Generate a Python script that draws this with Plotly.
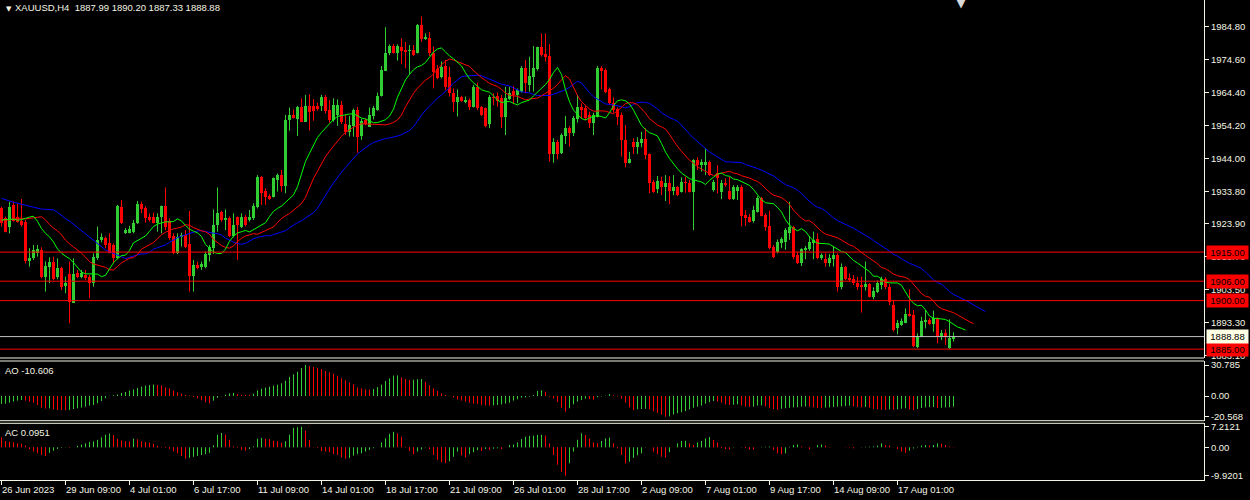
import plotly.graph_objects as go

# ---------------- data ----------------
time_labels = ["26 Jun 2023", "29 Jun 09:00", "4 Jul 01:00", "6 Jul 17:00", "11 Jul 09:00",
               "14 Jul 01:00", "18 Jul 17:00", "21 Jul 09:00", "26 Jul 01:00", "28 Jul 17:00",
               "2 Aug 09:00", "7 Aug 01:00", "9 Aug 17:00", "14 Aug 09:00", "17 Aug 01:00"]
bars_per_label = 16

opens = [
    1928.5, 1925.4, 1922.9, 1929.6, 1926.0, 1924.7, 1924.4, 1912.1, 1913.1, 1914.8,
    1915.7, 1907.2, 1910.5, 1911.8, 1907.2, 1910.0, 1904.5, 1908.2, 1899.4, 1908.6,
    1907.4, 1907.9, 1907.2, 1905.4, 1913.1, 1918.6, 1919.5, 1917.7, 1917.2, 1913.1,
    1929.0, 1920.8, 1921.0, 1921.3, 1923.9, 1929.9, 1928.5, 1925.7, 1925.7, 1924.1,
    1925.7, 1929.2, 1924.7, 1920.0, 1914.6, 1919.6, 1920.3, 1917.5, 1907.6, 1911.0,
    1910.5, 1910.5, 1914.1, 1916.2, 1923.4, 1927.3, 1924.9, 1925.4, 1920.0, 1926.0,
    1922.9, 1925.7, 1924.9, 1925.4, 1929.0, 1938.1, 1933.9, 1932.3, 1932.1, 1937.3,
    1938.8, 1935.5, 1955.8, 1957.4, 1956.2, 1959.9, 1955.3, 1960.2, 1960.2, 1960.2,
    1960.2, 1962.8, 1958.9, 1955.8, 1957.4, 1960.4, 1954.6, 1952.2, 1954.0, 1958.9,
    1950.9, 1955.8, 1953.8, 1957.1, 1958.9, 1963.3, 1971.1, 1976.4, 1978.8, 1976.6,
    1978.5, 1977.5, 1977.3, 1977.5, 1976.4, 1985.2, 1980.8, 1981.1, 1976.6, 1971.5,
    1969.2, 1972.5, 1969.2, 1964.1, 1961.5, 1963.1, 1961.5, 1962.0, 1959.9, 1965.9,
    1959.9, 1959.4, 1954.6, 1963.1, 1963.3, 1962.5, 1956.7, 1962.2, 1964.9, 1963.6,
    1964.6, 1971.8, 1966.7, 1969.2, 1971.5, 1978.3, 1976.2, 1975.6, 1945.3, 1949.1,
    1945.5, 1950.9, 1953.3, 1951.9, 1956.0, 1959.7, 1959.4, 1957.4, 1955.0, 1956.9,
    1971.8, 1971.3, 1965.3, 1961.2, 1959.1, 1957.4, 1949.7, 1942.6, 1949.1, 1947.6,
    1948.8, 1949.9, 1945.3, 1936.8, 1934.4, 1937.1, 1935.2, 1936.5, 1934.0, 1935.0,
    1933.7, 1936.8, 1936.5, 1933.7, 1943.5, 1941.9, 1941.9, 1942.7, 1934.2, 1939.3,
    1933.7, 1936.5, 1934.0, 1931.4, 1934.0, 1935.2, 1926.5, 1926.0, 1924.7, 1927.5,
    1931.6, 1926.5, 1923.1, 1916.7, 1915.1, 1917.7, 1918.2, 1921.0, 1922.9, 1914.1,
    1911.7, 1915.7, 1915.9, 1917.7, 1919.0, 1913.1, 1912.8, 1911.5, 1912.8, 1914.1,
    1904.3, 1910.5, 1906.9, 1906.6, 1905.6, 1904.8, 1904.3, 1905.1, 1901.0, 1902.8,
    1904.8, 1906.6, 1904.3, 1898.6, 1891.4, 1892.5, 1893.2, 1895.9, 1895.6, 1885.8,
    1888.9, 1893.5, 1894.0, 1892.8, 1894.5, 1889.1, 1889.9, 1885.3, 1887.99]

highs = [
    1929.0, 1926.0, 1930.6, 1930.6, 1929.9, 1931.4, 1924.9, 1916.2, 1917.2, 1917.2,
    1916.5, 1912.1, 1913.4, 1913.6, 1913.1, 1910.5, 1907.4, 1912.1, 1913.1, 1909.5,
    1909.5, 1909.5, 1907.9, 1914.6, 1922.9, 1920.8, 1919.8, 1920.8, 1917.7, 1929.6,
    1931.1, 1922.4, 1923.1, 1924.9, 1930.8, 1930.6, 1929.2, 1927.0, 1927.2, 1927.0,
    1929.4, 1935.0, 1925.4, 1920.8, 1920.8, 1921.0, 1921.8, 1927.7, 1912.6, 1912.1,
    1912.1, 1915.1, 1917.2, 1928.2, 1935.0, 1927.8, 1928.2, 1926.0, 1927.0, 1926.0,
    1927.0, 1926.5, 1928.0, 1930.1, 1938.8, 1938.5, 1934.7, 1932.9, 1938.1, 1939.3,
    1940.4, 1957.4, 1959.7, 1959.1, 1960.2, 1962.5, 1963.6, 1963.8, 1962.3, 1961.2,
    1963.6, 1963.6, 1962.0, 1962.5, 1962.2, 1961.7, 1957.4, 1957.1, 1959.4, 1959.9,
    1956.3, 1956.3, 1959.7, 1960.2, 1964.3, 1972.5, 1984.5, 1979.2, 1979.3, 1979.2,
    1981.1, 1980.0, 1979.0, 1979.0, 1985.5, 1987.8, 1982.6, 1983.1, 1978.5, 1972.8,
    1973.9, 1974.4, 1972.3, 1965.6, 1965.3, 1963.3, 1963.1, 1962.5, 1966.7, 1967.4,
    1960.2, 1959.7, 1963.6, 1964.1, 1964.3, 1963.6, 1966.1, 1966.1, 1966.3, 1965.6,
    1972.5, 1974.4, 1975.4, 1978.7, 1978.5, 1982.6, 1982.6, 1979.3, 1950.2, 1949.7,
    1951.7, 1957.1, 1954.0, 1957.1, 1963.6, 1961.0, 1960.2, 1958.4, 1958.1, 1972.5,
    1972.5, 1971.8, 1965.9, 1962.8, 1959.7, 1958.1, 1954.3, 1946.0, 1950.2, 1950.5,
    1952.2, 1953.3, 1945.5, 1937.3, 1938.5, 1938.3, 1938.8, 1938.5, 1938.8, 1935.4,
    1938.1, 1938.3, 1937.3, 1943.7, 1944.3, 1943.7, 1947.1, 1943.3, 1937.3, 1941.9,
    1937.3, 1937.8, 1938.3, 1935.7, 1935.7, 1935.7, 1928.0, 1926.8, 1929.3, 1932.3,
    1932.1, 1927.0, 1927.8, 1917.2, 1918.9, 1919.6, 1922.4, 1930.6, 1923.1, 1915.1,
    1916.2, 1916.9, 1920.0, 1921.3, 1920.8, 1914.6, 1914.6, 1914.4, 1916.7, 1914.6,
    1911.5, 1910.7, 1908.4, 1907.9, 1907.4, 1907.4, 1912.1, 1905.4, 1904.1, 1906.2,
    1907.4, 1907.2, 1905.1, 1900.2, 1894.0, 1894.5, 1897.6, 1903.5, 1897.1, 1889.9,
    1895.0, 1897.1, 1894.5, 1896.9, 1894.8, 1890.9, 1891.1, 1894.2, 1890.20]

lows = [
    1922.9, 1921.1, 1920.8, 1924.4, 1924.1, 1922.9, 1911.5, 1910.5, 1912.6, 1913.6,
    1906.9, 1902.8, 1905.4, 1906.4, 1906.6, 1903.3, 1902.3, 1893.0, 1899.4, 1906.9,
    1906.9, 1906.4, 1900.7, 1904.3, 1912.6, 1918.0, 1916.2, 1914.6, 1911.5, 1912.8,
    1923.7, 1920.6, 1920.8, 1920.8, 1923.7, 1927.0, 1924.1, 1924.4, 1923.9, 1921.3,
    1920.8, 1921.8, 1918.8, 1914.4, 1914.4, 1916.7, 1916.2, 1902.8, 1902.8, 1909.7,
    1909.5, 1910.0, 1912.1, 1914.4, 1921.3, 1924.4, 1921.8, 1919.6, 1919.6, 1912.6,
    1922.4, 1922.9, 1924.4, 1924.9, 1928.5, 1929.6, 1929.6, 1931.1, 1931.9, 1933.7,
    1933.7, 1933.2, 1952.5, 1956.3, 1950.9, 1955.3, 1955.3, 1952.5, 1955.6, 1958.7,
    1958.6, 1957.9, 1955.0, 1955.3, 1954.0, 1954.6, 1951.2, 1950.7, 1950.7, 1945.7,
    1949.7, 1954.2, 1953.8, 1956.0, 1958.7, 1963.1, 1971.1, 1975.9, 1976.4, 1974.2,
    1973.1, 1971.8, 1969.8, 1975.6, 1976.4, 1980.0, 1980.6, 1975.6, 1965.6, 1968.4,
    1968.7, 1965.1, 1963.1, 1958.4, 1956.9, 1961.5, 1961.0, 1958.9, 1959.7, 1958.9,
    1957.1, 1953.6, 1953.3, 1960.5, 1959.9, 1953.3, 1951.2, 1962.0, 1960.8, 1961.0,
    1964.3, 1964.1, 1964.6, 1964.6, 1971.1, 1975.4, 1973.9, 1943.0, 1942.6, 1943.7,
    1945.3, 1948.4, 1947.6, 1950.9, 1955.0, 1956.3, 1955.8, 1953.3, 1951.2, 1956.6,
    1965.3, 1964.1, 1960.5, 1958.1, 1954.3, 1944.5, 1941.2, 1942.4, 1945.3, 1945.3,
    1947.4, 1943.7, 1933.2, 1933.4, 1933.2, 1932.6, 1930.8, 1929.8, 1932.6, 1932.3,
    1933.4, 1933.4, 1933.4, 1921.8, 1940.4, 1939.9, 1938.8, 1938.5, 1933.7, 1933.2,
    1931.4, 1935.2, 1931.1, 1931.1, 1931.1, 1922.9, 1923.1, 1924.1, 1924.1, 1927.2,
    1926.0, 1921.6, 1915.9, 1913.1, 1914.6, 1916.2, 1915.7, 1918.8, 1912.8, 1911.3,
    1910.7, 1912.8, 1915.4, 1912.8, 1912.8, 1912.6, 1910.5, 1910.5, 1910.5, 1902.8,
    1903.5, 1906.4, 1905.9, 1904.8, 1903.3, 1896.3, 1903.1, 1901.0, 1900.4, 1902.3,
    1903.5, 1903.5, 1898.6, 1890.4, 1889.6, 1892.2, 1893.0, 1895.0, 1885.6, 1885.3,
    1888.7, 1891.4, 1892.5, 1890.4, 1886.8, 1887.8, 1886.3, 1885.0, 1887.33]

closes = [
    1923.9, 1921.3, 1929.0, 1924.7, 1924.4, 1923.4, 1912.1, 1913.1, 1915.7, 1915.9,
    1907.4, 1910.7, 1911.8, 1906.7, 1910.0, 1904.3, 1905.4, 1899.7, 1908.2, 1907.4,
    1908.4, 1906.9, 1905.4, 1913.4, 1918.8, 1919.6, 1917.2, 1914.6, 1913.1, 1929.3,
    1923.9, 1921.8, 1922.0, 1924.1, 1929.9, 1928.2, 1925.4, 1924.9, 1924.1, 1926.0,
    1929.2, 1922.9, 1919.3, 1914.6, 1919.8, 1920.3, 1916.7, 1907.6, 1911.0, 1910.0,
    1911.3, 1914.4, 1916.7, 1923.4, 1927.0, 1924.9, 1925.4, 1920.0, 1923.4, 1923.4,
    1925.7, 1923.4, 1925.7, 1929.3, 1938.3, 1933.4, 1932.1, 1931.4, 1937.8, 1938.8,
    1935.5, 1955.8, 1957.4, 1956.6, 1959.9, 1955.3, 1960.2, 1958.4, 1958.6, 1959.1,
    1962.8, 1958.7, 1955.8, 1960.5, 1960.4, 1955.3, 1952.2, 1954.3, 1958.9, 1950.7,
    1955.6, 1954.6, 1957.4, 1959.4, 1963.3, 1971.3, 1976.4, 1978.8, 1976.4, 1978.8,
    1977.3, 1977.0, 1977.5, 1975.9, 1985.2, 1980.8, 1981.4, 1976.4, 1970.8, 1968.7,
    1972.3, 1966.1, 1964.1, 1961.5, 1963.1, 1961.8, 1962.0, 1959.9, 1965.9, 1959.4,
    1957.4, 1954.0, 1963.1, 1962.5, 1961.8, 1956.7, 1962.5, 1964.3, 1963.6, 1965.1,
    1971.8, 1967.2, 1969.4, 1971.8, 1978.3, 1975.9, 1975.4, 1945.3, 1949.1, 1945.3,
    1951.2, 1953.3, 1951.7, 1956.3, 1959.7, 1958.9, 1956.6, 1955.0, 1957.4, 1971.8,
    1971.1, 1964.6, 1961.0, 1958.9, 1956.9, 1949.7, 1942.6, 1943.7, 1947.6, 1949.1,
    1949.9, 1945.0, 1936.5, 1933.7, 1937.1, 1935.2, 1936.5, 1934.0, 1935.0, 1932.6,
    1936.8, 1936.3, 1933.7, 1943.5, 1941.9, 1943.0, 1942.7, 1938.8, 1936.8, 1937.8,
    1936.5, 1935.7, 1931.4, 1935.0, 1935.2, 1926.2, 1925.4, 1924.4, 1928.0, 1931.6,
    1926.2, 1922.9, 1916.2, 1913.4, 1918.2, 1919.0, 1921.8, 1922.9, 1913.4, 1911.5,
    1915.9, 1916.2, 1918.2, 1918.8, 1913.1, 1914.1, 1911.5, 1913.1, 1914.1, 1904.3,
    1910.5, 1906.6, 1906.4, 1905.4, 1904.3, 1904.1, 1905.1, 1901.2, 1903.0, 1905.6,
    1906.6, 1904.3, 1899.7, 1890.9, 1893.0, 1893.8, 1895.9, 1895.3, 1886.0, 1889.1,
    1893.8, 1894.0, 1892.8, 1894.5, 1888.9, 1889.9, 1888.9, 1888.4, 1888.88]

# Awesome Oscillator values
ao_values = [
    -7.9, -7.6, -6.6, -5.6, -4.6, -4.0, -4.6, -5.6, -6.6, -8.9,
    -11.3, -12.5, -12.3, -13.2, -13.9, -14.0, -14.2, -13.9, -12.9, -12.2,
    -11.6, -10.6, -9.6, -8.9, -7.3, -5.0, -2.3, 0.2, 0.7, 1.5,
    3.0, 4.0, 5.3, 6.6, 8.0, 9.3, 10.3, 10.9, 11.3, 11.0,
    10.3, 8.6, 7.6, 5.3, 3.6, 2.3, 1.0, 0.3, -1.0, -2.3,
    -4.3, -6.3, -7.3, -4.6, -1.7, -0.3, 1.3, 2.6, 3.0, 2.0,
    1.3, 1.0, 0.9, 2.3, 5.6, 7.3, 8.3, 9.3, 10.3, 11.3,
    12.6, 15.2, 18.9, 21.5, 24.2, 27.8, 30.785, 29.8, 28.8, 27.8,
    26.8, 24.8, 23.5, 22.2, 20.2, 17.5, 15.6, 13.6, 11.6, 8.6,
    7.6, 6.6, 6.4, 7.0, 8.9, 11.3, 14.9, 17.5, 20.2, 20.5,
    18.2, 16.9, 15.9, 16.2, 16.6, 16.9, 14.2, 10.9, 7.6, 5.0,
    2.6, 1.0, 0.0, -1.3, -3.3, -4.6, -5.6, -6.6, -7.3, -7.9,
    -8.6, -9.3, -9.6, -9.3, -8.9, -8.3, -7.6, -6.6, -4.6, -3.3,
    -1.7, -1.3, -0.6, 1.0, 5.0, 5.6, 4.3, -0.7, -2.6, -6.0,
    -11.6, -15.6, -12.2, -8.3, -5.6, -4.0, -2.6, -3.0, -3.6, -1.3,
    -0.5, 0.3, 2.0, 0.7, -0.5, -2.6, -6.6, -11.3, -13.9, -13.2,
    -12.9, -12.6, -13.2, -15.2, -16.9, -18.5, -20.568, -20.2, -18.2, -17.2,
    -16.2, -14.9, -13.2, -11.6, -10.6, -9.6, -7.6, -6.0, -5.0, -5.6,
    -6.6, -8.3, -8.9, -8.6, -8.3, -9.3, -10.3, -10.9, -10.6, -9.6,
    -9.3, -10.3, -11.6, -12.9, -13.6, -12.6, -12.2, -11.6, -11.3, -11.0,
    -10.6, -10.3, -10.6, -11.3, -11.9, -12.2, -11.6, -11.3, -11.0, -10.6,
    -10.3, -10.0, -9.6, -10.3, -11.0, -11.3, -10.9, -11.6, -12.6, -13.2,
    -13.6, -13.9, -13.3, -13.6, -13.2, -12.6, -12.2, -13.2, -13.9, -12.9,
    -11.9, -11.3, -11.0, -10.9, -11.9, -11.6, -11.3, -11.0, -10.606]

# Accelerator Oscillator values
ac_values = [
    3.5, 2.2, 2.0, 1.7, 1.4, 1.2, 0.6, -0.6, -1.5, -2.1,
    -2.7, -3.1, -1.9, -1.2, -0.6, -0.2, -0.1, -0.2, 0.0, 0.5,
    1.0, 1.4, 1.9, 2.1, 2.6, 3.5, 4.4, 4.8, 4.3, 3.0,
    2.4, 2.1, 2.0, 3.0, 2.8, 2.1, 1.9, 1.6, 1.2, 0.5,
    0.2, -0.3, -0.5, -1.4, -2.1, -3.1, -4.0, -3.7, -3.3, -3.0,
    -2.7, -2.4, -1.9, 0.7, 4.4, 5.0, 4.4, 2.6, 0.3, -0.2,
    -0.9, -1.2, -0.6, 0.3, 3.0, 3.3, 3.0, 2.8, 2.3, 2.1,
    1.6, 2.1, 4.4, 6.8, 7.0, 7.2121, 5.8, 2.6, 0.1, -0.3,
    -1.3, -1.5, -1.7, -2.3, -2.7, -3.5, -4.0, -3.8, -2.9, -2.4,
    -2.1, -1.5, -0.9, -0.3, 0.0, 1.7, 3.1, 4.7, 5.4, 4.9,
    3.7, 0.2, -1.3, -2.4, -1.5, -0.8, 0.1, -0.6, -2.7, -4.4,
    -5.2, -5.5, -4.9, -3.3, -1.5, -2.8, -3.5, -2.4, -1.7, -1.0,
    -1.3, -0.6, -0.9, -0.5, -0.3, -0.6, 0.0, 0.8, 1.0, 1.7,
    2.9, 3.7, 4.0, 4.1, 4.3, 4.4, 4.1, 1.4, -2.7, -6.1,
    -8.5, -9.9201, -5.6, -1.5, 2.6, 4.9, 4.3, 3.1, 1.7, 1.4,
    2.2, 3.1, 3.4, 1.4, -0.3, -2.7, -5.6, -5.0, -3.7, -2.8,
    -2.1, -0.1, 0.05, -1.5, -2.4, -3.3, -3.6, -1.7, 0.0, 1.4,
    2.2, 2.3, 1.4, 0.8, 1.7, 2.2, 3.1, 3.6, 2.6, 1.7,
    -0.3, -0.6, -0.7, -0.1, 0.0, 0.1, -0.3, -0.7, -0.8, 0.0,
    0.1, 0.2, 0.3, -0.9, -2.1, -2.4, -2.1, 0.2, 0.8, 1.0,
    0.3, 0.1, -0.7, 0.0, 0.8, 1.0, 0.6, 0.1, 0.05, 0.0,
    -0.05, -0.1, -0.15, -0.35, 0.0, 0.1, 0.15, 0.25, 0.3, 0.6,
    1.4, 0.8, 0.6, 0.0, -0.6, -1.5, -1.9, -1.2, -0.4, 0.2,
    0.6, 0.8, 0.6, 0.8, 1.4, 1.2, 0.8, 0.3, 0.0951]
ao_first_up = True
ac_first_up = False

# Alligator: values read at the left edge (before enough history), then smoothed from median price
jaw_head = [1931.6, 1931.3, 1930.8, 1930.4, 1930.1, 1929.8, 1929.4, 1929.1]
jaw_seed = 1928.9
teeth_head = [1925.1, 1924.9, 1924.9, 1925.2, 1925.4]
teeth_seed = 1925.5
lips_head = [1924.9, 1924.9, 1925.1]
lips_seed = 1925.2

level_lines = [1915.00, 1906.00, 1900.00, 1885.00]
bid_price = 1888.88
price_ticks = [1984.80, 1974.60, 1964.40, 1954.20, 1944.00, 1933.80, 1923.90,
               1913.70, 1903.50, 1893.30, 1883.10]
ao_ticks = [30.785, 0.0, -20.568]
ac_ticks = [7.2121, 0.0, -9.9201]
ao_ticktext = ["30.785", "0.00", "-20.568"]
ac_ticktext = ["7.2121", "0.00", "-9.9201"]
symbol_title = "XAUUSD,H4"
ao_label = "AO -10.606"
ac_label = "AC 0.0951"

# ---------------- style ----------------
W, H = 1250, 500
AXIS_X = 1204 / W
BG = "#000000"
FG = "#f4f4e4"
UP = "#32cd32"
DN = "#ff0000"
FONT = "Liberation Sans"
FS = 9.5

N = len(opens)
idx = list(range(N))

fig = go.Figure()


def segments(xs, y0s, y1s):
    sx, sy = [], []
    for x, a, b in zip(xs, y0s, y1s):
        sx += [x, x, None]
        sy += [a, b, None]
    return sx, sy


# candle wicks
up_i = [i for i in idx if closes[i] >= opens[i]]
dn_i = [i for i in idx if closes[i] < opens[i]]
for col, sel in ((UP, up_i), (DN, dn_i)):
    sx, sy = segments(sel, [lows[i] for i in sel], [highs[i] for i in sel])
    fig.add_trace(go.Scatter(x=sx, y=sy, mode="lines", line=dict(color=col, width=1),
                             hoverinfo="skip", xaxis="x", yaxis="y"))

# candle bodies
body_base = [min(o, c) for o, c in zip(opens, closes)]
body_h = [max(abs(c - o), 0.3) for o, c in zip(opens, closes)]
body_col = [UP if c >= o else DN for o, c in zip(opens, closes)]
fig.add_trace(go.Bar(x=idx, y=body_h, base=body_base, width=0.75,
                     marker=dict(color=body_col, line=dict(width=0)),
                     hoverinfo="skip", xaxis="x", yaxis="y"))

# Alligator
median = [(h + l) / 2 for h, l in zip(highs, lows)]


def smma(seed, n):
    out = [seed]
    for m in median[1:]:
        out.append((out[-1] * (n - 1) + m) / n)
    return out


for head, seed, period, shift, col in ((jaw_head, jaw_seed, 13, 8, "#0000ff"),
                                        (teeth_head, teeth_seed, 8, 5, "#ff0000"),
                                        (lips_head, lips_seed, 5, 3, "#00ff00")):
    xs = list(range(len(head))) + [i + shift for i in idx]
    ys = head + smma(seed, period)
    fig.add_trace(go.Scatter(x=xs, y=ys, mode="lines", line=dict(color=col, width=1),
                             hoverinfo="skip", xaxis="x", yaxis="y"))


# histograms (AO / AC) as 1px vertical segments
def add_hist(vals, first_up, yax):
    ups = [first_up] + [b > a for a, b in zip(vals[:-1], vals[1:])]
    for col, flag in ((UP, True), (DN, False)):
        sel = [i for i in idx if ups[i] == flag]
        sx, sy = segments(sel, [0.0] * len(sel), [vals[i] for i in sel])
        fig.add_trace(go.Scatter(x=sx, y=sy, mode="lines", line=dict(color=col, width=1),
                                 hoverinfo="skip", xaxis="x", yaxis=yax))


add_hist(ao_values, ao_first_up, "y2")
add_hist(ac_values, ac_first_up, "y3")

# ---------------- layout ----------------
tick_idx = [k * bars_per_label for k in range(len(time_labels))]
axfont = dict(family=FONT, size=FS, color=FG)

main_dom = [1 - 358 / H, 1.0]
ao_dom = [1 - 420.7 / H, 1 - 361 / H]
ac_dom = [1 - 480 / H, 1 - 423.3 / H]

fig.update_layout(
    template="none",
    width=W, height=H, margin=dict(l=0, r=0, t=0, b=0, pad=0),
    paper_bgcolor=BG, plot_bgcolor=BG, showlegend=False,
    barmode="overlay", bargap=0, hovermode=False,
    font=dict(family=FONT, size=FS, color=FG),
    xaxis=dict(domain=[0, AXIS_X], range=[-0.375, 300.625], anchor="y3",
               showgrid=False, zeroline=False, showline=True, linecolor=FG, linewidth=1,
               tickvals=tick_idx, showticklabels=False, ticks="outside", ticklen=4,
               tickcolor=FG, tickwidth=1, fixedrange=True, automargin=False),
    yaxis=dict(domain=main_dom, range=[1882.26, 1992.93], side="right", anchor="x",
               showgrid=False, zeroline=False, showline=True, linecolor=FG, linewidth=1,
               tickvals=price_ticks, ticktext=[f"{v:.2f}" for v in price_ticks],
               ticks="outside", ticklen=4, tickcolor=FG, tickfont=axfont, automargin=False),
    yaxis2=dict(domain=ao_dom, range=[-24.53, 34.76], side="right", anchor="x",
                showgrid=False, zeroline=False, showline=True, linecolor=FG, linewidth=1,
                tickvals=ao_ticks, ticktext=ao_ticktext,
                ticks="outside", ticklen=4, tickcolor=FG, tickfont=axfont, automargin=False),
    yaxis3=dict(domain=ac_dom, range=[-11.43, 8.39], side="right", anchor="x",
                showgrid=False, zeroline=False, showline=True, linecolor=FG, linewidth=1,
                tickvals=ac_ticks, ticktext=ac_ticktext,
                ticks="outside", ticklen=4, tickcolor=FG, tickfont=axfont, automargin=False),
)

shapes = []
# panel frame lines
for yp in (main_dom[0], ao_dom[1], ao_dom[0], ac_dom[1]):
    shapes.append(dict(type="line", xref="paper", yref="paper", x0=0, x1=AXIS_X,
                       y0=yp, y1=yp, line=dict(color=FG, width=1)))
# horizontal levels
for lv in level_lines:
    shapes.append(dict(type="line", xref="paper", yref="y", x0=0, x1=AXIS_X,
                       y0=lv, y1=lv, line=dict(color=DN, width=1)))
shapes.append(dict(type="line", xref="paper", yref="y", x0=0, x1=AXIS_X,
                   y0=bid_price, y1=bid_price, line=dict(color="#c0c0c0", width=1)))
fig.update_layout(shapes=shapes)

ann = []
for lv in level_lines:
    ann.append(dict(xref="paper", yref="y", x=1206 / W, y=lv, xanchor="left", yanchor="middle",
                    text=f"{lv:.2f}", showarrow=False, bgcolor=DN, width=39, height=11,
                    borderpad=1, font=dict(family=FONT, size=FS, color="#000000")))
ann.append(dict(xref="paper", yref="y", x=1206 / W, y=bid_price, xanchor="left", yanchor="middle",
                text=f"{bid_price:.2f}", showarrow=False, bgcolor="#ffffe6", width=39, height=11,
                borderpad=1, font=dict(family=FONT, size=FS, color="#000000")))

for ti, lab in zip(tick_idx, time_labels):
    ann.append(dict(xref="x", yref="paper", x=ti, y=ac_dom[0], xanchor="left", yanchor="top",
                    xshift=-2, yshift=-2, text=lab, showarrow=False, font=axfont))

title_text = f"{symbol_title}  {opens[-1]:.2f} {highs[-1]:.2f} {lows[-1]:.2f} {closes[-1]:.2f}"
ann.append(dict(xref="paper", yref="paper", x=4 / W, y=1, xanchor="left", yanchor="top",
                yshift=-3, text="▼", showarrow=False,
                font=dict(family="DejaVu Sans", size=7, color=FG)))
ann.append(dict(xref="paper", yref="paper", x=13 / W, y=1, xanchor="left", yanchor="top",
                yshift=0, text=title_text, showarrow=False, font=axfont))
ann.append(dict(xref="paper", yref="paper", x=3 / W, y=ao_dom[1], xanchor="left", yanchor="top",
                yshift=-2, text=ao_label, showarrow=False, font=axfont))
ann.append(dict(xref="paper", yref="paper", x=3 / W, y=ac_dom[1], xanchor="left", yanchor="top",
                yshift=-2, text=ac_label, showarrow=False, font=axfont))
# chart-shift marker at the top
ann.append(dict(xref="paper", yref="paper", x=961 / W, y=1, xanchor="center", yanchor="top",
                yshift=7, text="▼", showarrow=False,
                font=dict(family="DejaVu Sans", size=13, color="#d8d8d8")))
fig.update_layout(annotations=ann)

fig.write_html("out.html", config={"displayModeBar": False, "staticPlot": True},
               post_script="document.body.style.margin='0px';document.body.style.background='#000';")
